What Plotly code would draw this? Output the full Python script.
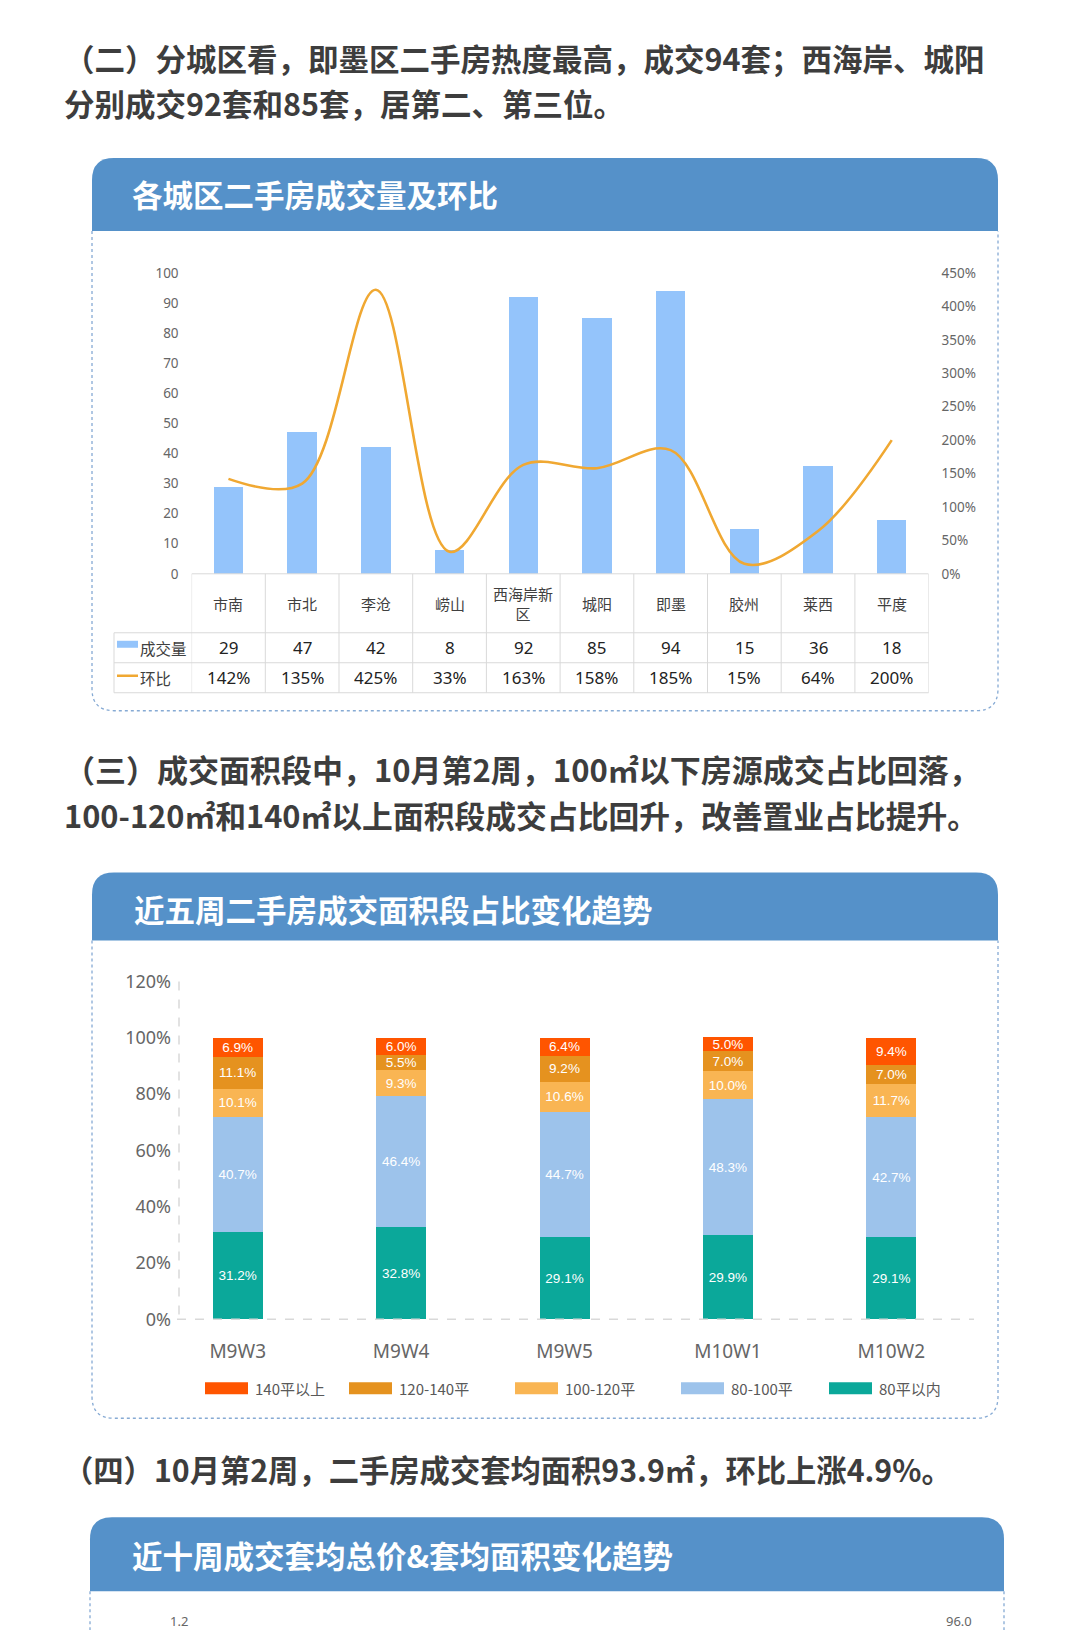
import plotly.graph_objects as go

W, H = 1080, 1630


# target pixel positions (as in the reference) -> paper coordinates,
# compensating for how the page is placed in the screenshot
def fx(x):
    return (x - 8) / W


def fy(y):
    return 1 - (1.0143 * y - 22.15) / H


def P(x, y):
    return f"{fx(x):.5f},{fy(y):.5f}"


# ---------------- data ----------------
para1 = ["（二）分城区看，即墨区二手房热度最高，成交94套；西海岸、城阳",
         "分别成交92套和85套，居第二、第三位。"]
title1 = "各城区二手房成交量及环比"
districts = ["市南", "市北", "李沧", "崂山", "西海岸新区", "城阳", "即墨", "胶州", "莱西", "平度"]
deals = [29, 47, 42, 8, 92, 85, 94, 15, 36, 18]
mom = [1.42, 1.35, 4.25, 0.33, 1.63, 1.58, 1.85, 0.15, 0.64, 2.00]
series1 = ["成交量", "环比"]
left_ticks = [0, 10, 20, 30, 40, 50, 60, 70, 80, 90, 100]
right_ticks = [0, 0.5, 1.0, 1.5, 2.0, 2.5, 3.0, 3.5, 4.0, 4.5]

para2 = ["（三）成交面积段中，10月第2周，100㎡以下房源成交占比回落，",
         "100-120㎡和140㎡以上面积段成交占比回升，改善置业占比提升。"]
title2 = "近五周二手房成交面积段占比变化趋势"
weeks = ["M9W3", "M9W4", "M9W5", "M10W1", "M10W2"]
seg_names = ["140平以上", "120-140平", "100-120平", "80-100平", "80平以内"]
share_gt140 = [6.9, 6.0, 6.4, 5.0, 9.4]
share_120_140 = [11.1, 5.5, 9.2, 7.0, 7.0]
share_100_120 = [10.1, 9.3, 10.6, 10.0, 11.7]
share_80_100 = [40.7, 46.4, 44.7, 48.3, 42.7]
share_lt80 = [31.2, 32.8, 29.1, 29.9, 29.1]
pct_ticks = [0, 20, 40, 60, 80, 100, 120]

para3 = "（四）10月第2周，二手房成交套均面积93.9㎡，环比上涨4.9%。"
title3 = "近十周成交套均总价&套均面积变化趋势"
c3_left_top_tick = "1.2"
c3_right_top_tick = "96.0"

# ---------------- styles ----------------
CJK = "Noto Sans CJK SC"
HEADER = "#5591C9"
BORDER = "#86AAD4"
TEXT = "#3D3D3D"
TICK = "#666666"
BAR1 = "#94C4FB"
LINE1 = "#F0A832"
seg_colors = ["#FF5500", "#E5921F", "#F9B553", "#9DC3EB", "#0BA89A"]
GRID = "#D9D9D9"

fig = go.Figure()

# ---------------- chart 1 ----------------
fig.add_trace(go.Bar(x=districts, y=deals, width=0.40, marker=dict(color=BAR1, line=dict(width=0)),
                     xaxis="x", yaxis="y", name=series1[0], hoverinfo="x+y"))
fig.add_trace(go.Scatter(x=districts, y=mom, mode="lines",
                         line=dict(color=LINE1, width=2.6, shape="spline", smoothing=1.0),
                         xaxis="x", yaxis="y2", name=series1[1]))

# ---------------- chart 2 ----------------
stack = [(share_lt80, 4), (share_80_100, 3), (share_100_120, 2), (share_120_140, 1), (share_gt140, 0)]
for vals, ci in stack:
    fig.add_trace(go.Bar(x=weeks, y=vals, width=0.306, name=seg_names[ci],
                         marker=dict(color=seg_colors[ci], line=dict(width=0)),
                         text=[f"{v:.1f}%" for v in vals], textposition="inside",
                         insidetextanchor="middle", textangle=0, constraintext="none",
                         textfont=dict(color="white", size=13.5, family="Liberation Sans"),
                         xaxis="x2", yaxis="y3"))

shapes = []
annotations = []


def card(x0, y0, yh, y1, x1, r=22, closed=True):
    shapes.append(dict(type="path", xref="paper", yref="paper",
                       path=f"M{P(x0,yh)} L{P(x0,y0+r)} Q{P(x0,y0)} {P(x0+r,y0)} L{P(x1-r,y0)} Q{P(x1,y0)} {P(x1,y0+r)} L{P(x1,yh)} Z",
                       line=dict(width=0), fillcolor=HEADER, layer="below"))
    if closed:
        p = f"M{P(x0,yh)} L{P(x0,y1-r)} Q{P(x0,y1)} {P(x0+r,y1)} L{P(x1-r,y1)} Q{P(x1,y1)} {P(x1,y1-r)} L{P(x1,yh)}"
    else:
        p = f"M{P(x0,yh)} L{P(x0,y1)} M{P(x1,yh)} L{P(x1,y1)}"
    shapes.append(dict(type="path", xref="paper", yref="paper", path=p,
                       line=dict(color=BORDER, width=1.3, dash="dot"), fillcolor="rgba(0,0,0,0)", layer="below"))


card(92, 159, 232, 712, 998)
card(92, 874, 942, 1420, 998)
card(90, 1519, 1593, 1700, 1004, closed=False)


def text(x, y, s, size, color, bold=False, anchor="left", family=CJK):
    annotations.append(dict(xref="paper", yref="paper", x=fx(x), y=fy(y), text=(f"<b>{s}</b>" if bold else s),
                            showarrow=False, xanchor=anchor, yanchor="middle",
                            font=dict(size=size, color=color, family=family)))


# paragraphs and titles
text(62, 59, para1[0], 30.5, TEXT, True)
text(62, 104, para1[1], 30.5, TEXT, True)
text(130, 195, title1, 30.5, "white", True)
text(62, 770, para2[0], 31, TEXT, True)
text(62, 816, para2[1], 30.8, TEXT, True)
text(132, 910, title2, 30.5, "white", True)
text(61, 1471, para3, 30.3, TEXT, True)
text(130, 1557, title3, 30.5, "white", True)
text(179, 1623, c3_left_top_tick, 13, TICK, anchor="center", family="Noto Sans")
text(959, 1623, c3_right_top_tick, 13, TICK, anchor="center", family="Noto Sans")

# chart 1 data table
n = len(districts)
tab_top, row1, row2, row3 = 575, 634, 664, 694
lab_left = 114
shapes.append(dict(type="line", xref="x", yref="paper", x0=-0.5, x1=n - 0.5, y0=fy(tab_top), y1=fy(tab_top),
                   line=dict(color=GRID, width=1)))
for yy in (row1, row2, row3):
    shapes.append(dict(type="line", xref="paper", yref="paper", x0=fx(lab_left), x1=fx(928.6), y0=fy(yy), y1=fy(yy),
                       line=dict(color=GRID, width=1)))
for i in range(n + 1):
    shapes.append(dict(type="line", xref="x", yref="paper", x0=i - 0.5, x1=i - 0.5, y0=fy(tab_top), y1=fy(row3),
                       line=dict(color=GRID, width=1)))
shapes.append(dict(type="line", xref="paper", yref="paper", x0=fx(lab_left), x1=fx(lab_left), y0=fy(row1), y1=fy(row3),
                   line=dict(color=GRID, width=1)))
for i, (d, v, m) in enumerate(zip(districts, deals, mom)):
    label = d if len(d) <= 4 else d[:4] + "<br>" + d[4:]
    annotations.append(dict(xref="x", yref="paper", x=i, y=fy((tab_top + row1) / 2), text=label, showarrow=False,
                            xanchor="center", yanchor="middle", font=dict(size=15, color="#404040", family=CJK)))
    annotations.append(dict(xref="x", yref="paper", x=i, y=fy((row1 + row2) / 2), text=str(v), showarrow=False,
                            xanchor="center", yanchor="middle", font=dict(size=17, color="#222222", family="Noto Sans")))
    annotations.append(dict(xref="x", yref="paper", x=i, y=fy((row2 + row3) / 2), text=f"{round(m * 100)}%",
                            showarrow=False, xanchor="center", yanchor="middle",
                            font=dict(size=17, color="#222222", family="Noto Sans")))
# table legend keys
shapes.append(dict(type="rect", xref="paper", yref="paper", x0=fx(117), x1=fx(138), y0=fy(642), y1=fy(649),
                   fillcolor=BAR1, line=dict(width=0)))
shapes.append(dict(type="line", xref="paper", yref="paper", x0=fx(117), x1=fx(138), y0=fy(677), y1=fy(677),
                   line=dict(color=LINE1, width=2.5)))
text(138, (row1 + row2) / 2, series1[0], 15.5, "#404040")
text(138, (row2 + row3) / 2, series1[1], 15.5, "#404040")

# chart 2 axis lines and legend
shapes.append(dict(type="line", xref="paper", yref="paper", x0=fx(179), x1=fx(179), y0=fy(983), y1=fy(1321),
                   line=dict(color=GRID, width=1.5, dash="dash")))
shapes.append(dict(type="line", xref="paper", yref="paper", x0=fx(177), x1=fx(974), y0=fy(1321), y1=fy(1321),
                   line=dict(color=GRID, width=1.5, dash="dash")))
leg_x = [205, 349, 515, 681, 829]
for lx, nm, col in zip(leg_x, seg_names, seg_colors):
    shapes.append(dict(type="rect", xref="paper", yref="paper", x0=fx(lx), x1=fx(lx + 43), y0=fy(1384), y1=fy(1396),
                       fillcolor=col, line=dict(width=0)))
    text(lx + 48, 1390, nm, 15, "#595959")

axis_font = dict(family="Noto Sans", color=TICK)
fig.update_layout(
    width=W, height=H, margin=dict(l=0, r=0, t=0, b=0),
    paper_bgcolor="white", plot_bgcolor="rgba(0,0,0,0)",
    showlegend=False, barmode="stack",
    font=dict(family=CJK, color=TEXT),
    xaxis=dict(domain=[fx(191.6), fx(928.6)], type="category", range=[-0.5, n - 0.5],
               showticklabels=False, showgrid=False, zeroline=False, showline=False, anchor="y"),
    yaxis=dict(domain=[fy(575), fy(274)], range=[0, 100], tickvals=left_ticks, showgrid=False, zeroline=False,
               showline=False, ticks="", tickfont=dict(size=13.5, **axis_font), ticklabelstandoff=12, anchor="x"),
    yaxis2=dict(domain=[fy(575), fy(274)], range=[0, 4.5], tickvals=right_ticks,
                ticktext=[f"{round(t * 100)}%" for t in right_ticks],
                overlaying="y", side="right", showgrid=False, zeroline=False, showline=False, ticks="",
                tickfont=dict(size=13.5, **axis_font), ticklabelstandoff=12, anchor="x"),
    xaxis2=dict(domain=[fx(156), fx(973)], type="category", range=[-0.5, 4.5], anchor="y3",
                showgrid=False, zeroline=False, showline=False, ticks="",
                tickfont=dict(size=19, **axis_font), ticklabelstandoff=19),
    yaxis3=dict(domain=[fy(1321), fy(983)], range=[0, 120], tickvals=pct_ticks,
                ticktext=[f"{t}%" for t in pct_ticks],
                anchor="free", position=fx(179), showgrid=False, zeroline=False, showline=False, ticks="",
                tickfont=dict(size=18, **axis_font), ticklabelstandoff=8),
    uniformtext=dict(minsize=13.5, mode="show"),
    shapes=shapes, annotations=annotations,
)

fig.write_html("out.html")
